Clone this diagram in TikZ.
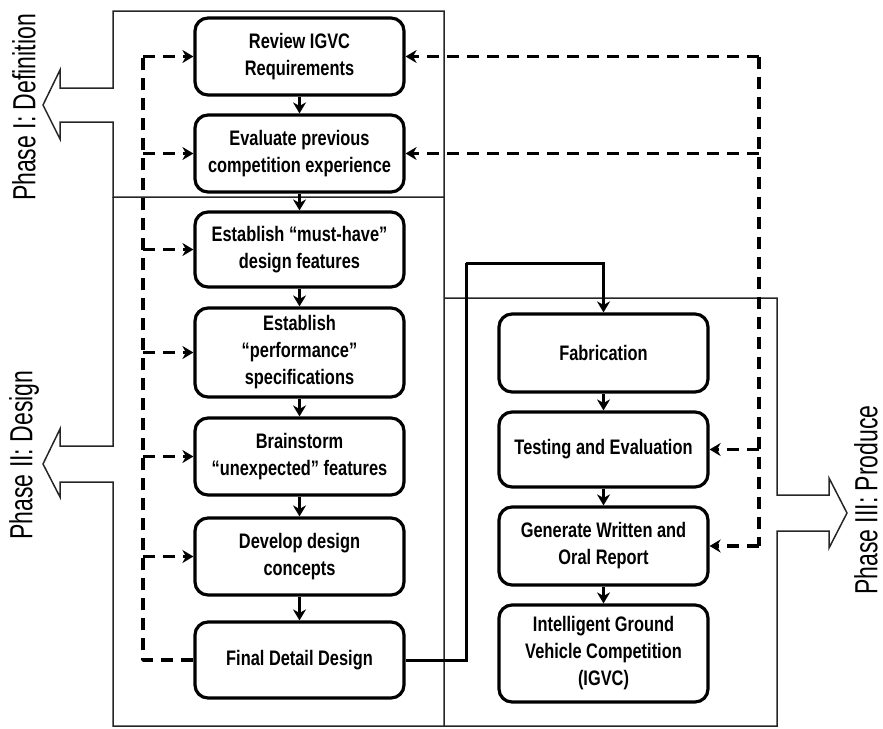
\documentclass[tikz,border=0pt]{standalone}
\usepackage{fontspec}
\setmainfont{Liberation Sans}
\newfontfamily\stepfont[FakeStretch=0.78]{Liberation Sans}
\newfontfamily\phasefont[FakeStretch=0.72]{Liberation Sans}
\usetikzlibrary{arrows.meta}

\begin{document}
\begin{tikzpicture}[x=1pt,y=-1pt,
  stepbox/.style={draw, line width=3.2pt, rounded corners=13pt,
    minimum width=209pt, align=center, inner sep=0pt,
    font=\stepfont\bfseries\fontsize{21}{27}\selectfont},
  flow/.style={line width=3pt, -{Stealth[length=11pt,width=13pt]}},
  fbline/.style={line width=3.4pt, dash pattern=on 12pt off 8pt, line join=round},
  fb/.style={fbline, -{Stealth[length=11pt,width=13pt]}},
  phaseframe/.style={line width=1.5pt, draw=black!85, line join=miter},
  phaselabel/.style={rotate=90, inner sep=0pt,
    font=\phasefont\fontsize{32}{36}\selectfont}
]
\useasboundingbox (0,0) rectangle (883,728);

% phase frames with their hollow arrows
\draw[phaseframe] (444,197) -- (444,11) -- (113,11) -- (113,88) -- (60,88)
  -- (60,70) -- (43,105) -- (60,139) -- (60,122) -- (113,122) -- (113,197) -- cycle;
\draw[phaseframe] (113,197) -- (113,446) -- (60,446) -- (60,429) -- (43,464)
  -- (60,497) -- (60,482) -- (113,482) -- (113,726) -- (444,726) -- (444,197);
\draw[phaseframe] (444,298) -- (777,298) -- (777,495) -- (829,495) -- (829,478)
  -- (847,513) -- (829,548) -- (829,531) -- (777,531) -- (777,726) -- (444,726);

\node[phaselabel] (p1) at (24,107.5) {Phase I: Definition};
\node[phaselabel] (p2) at (24,455) {Phase II: Design};
\node[phaselabel] (p3) at (866,500) {Phase III: Produce};

% design column
\node[stepbox, minimum height=77pt] (b1) at (299.5,56.5) {Review IGVC\\Requirements};
\node[stepbox, minimum height=77pt] (b2) at (299.5,153.5) {Evaluate previous\\competition experience};
\node[stepbox, minimum height=75pt] (b3) at (299.5,249.5) {Establish “must-have”\\design features};
\node[stepbox, minimum height=89pt] (b4) at (299.5,352.5) {Establish\\“performance”\\specifications};
\node[stepbox, minimum height=77pt] (b5) at (299.5,456.5) {Brainstorm\\“unexpected” features};
\node[stepbox, minimum height=77pt] (b6) at (299.5,556.5) {Develop design\\concepts};
\node[stepbox, minimum height=76pt] (b7) at (299.5,660) {Final Detail Design};

% production column
\node[stepbox, minimum height=78pt] (f1) at (603.5,353) {Fabrication};
\node[stepbox, minimum height=75pt] (f2) at (603.5,449.5) {Testing and Evaluation};
\node[stepbox, minimum height=78pt] (f3) at (603.5,546) {Generate Written and\\Oral Report};
\node[stepbox, minimum height=97pt] (f4) at (603.5,653.5) {Intelligent Ground\\Vehicle Competition\\(IGVC)};

% main flow
\foreach \a/\b in {b1/b2,b2/b3,b3/b4,b4/b5,b5/b6,b6/b7,f1/f2,f2/f3,f3/f4}
  \draw[flow] (\a.south) -- (\b.north);

\coordinate (j1) at (466,263);
\draw[line width=3pt] (b7.east) -| (j1);
\draw[flow] (j1) -| (f1.north);

% feedback loops
\coordinate (lx) at (143,0);
\coordinate (rx) at (759,0);
\draw[fbline] (b7.west) -- (b7.west -| lx) -- (b1.west -| lx);
\foreach \n in {b1,b2,b3,b4,b5,b6}
  \draw[fb] (\n.west -| lx) -- (\n.west);
\draw[fbline] (b1.east -| rx) -- (f3.east -| rx);
\foreach \n in {b1,b2,f2,f3}
  \draw[fb] (\n.east -| rx) -- (\n.east);
\end{tikzpicture}
\end{document}
